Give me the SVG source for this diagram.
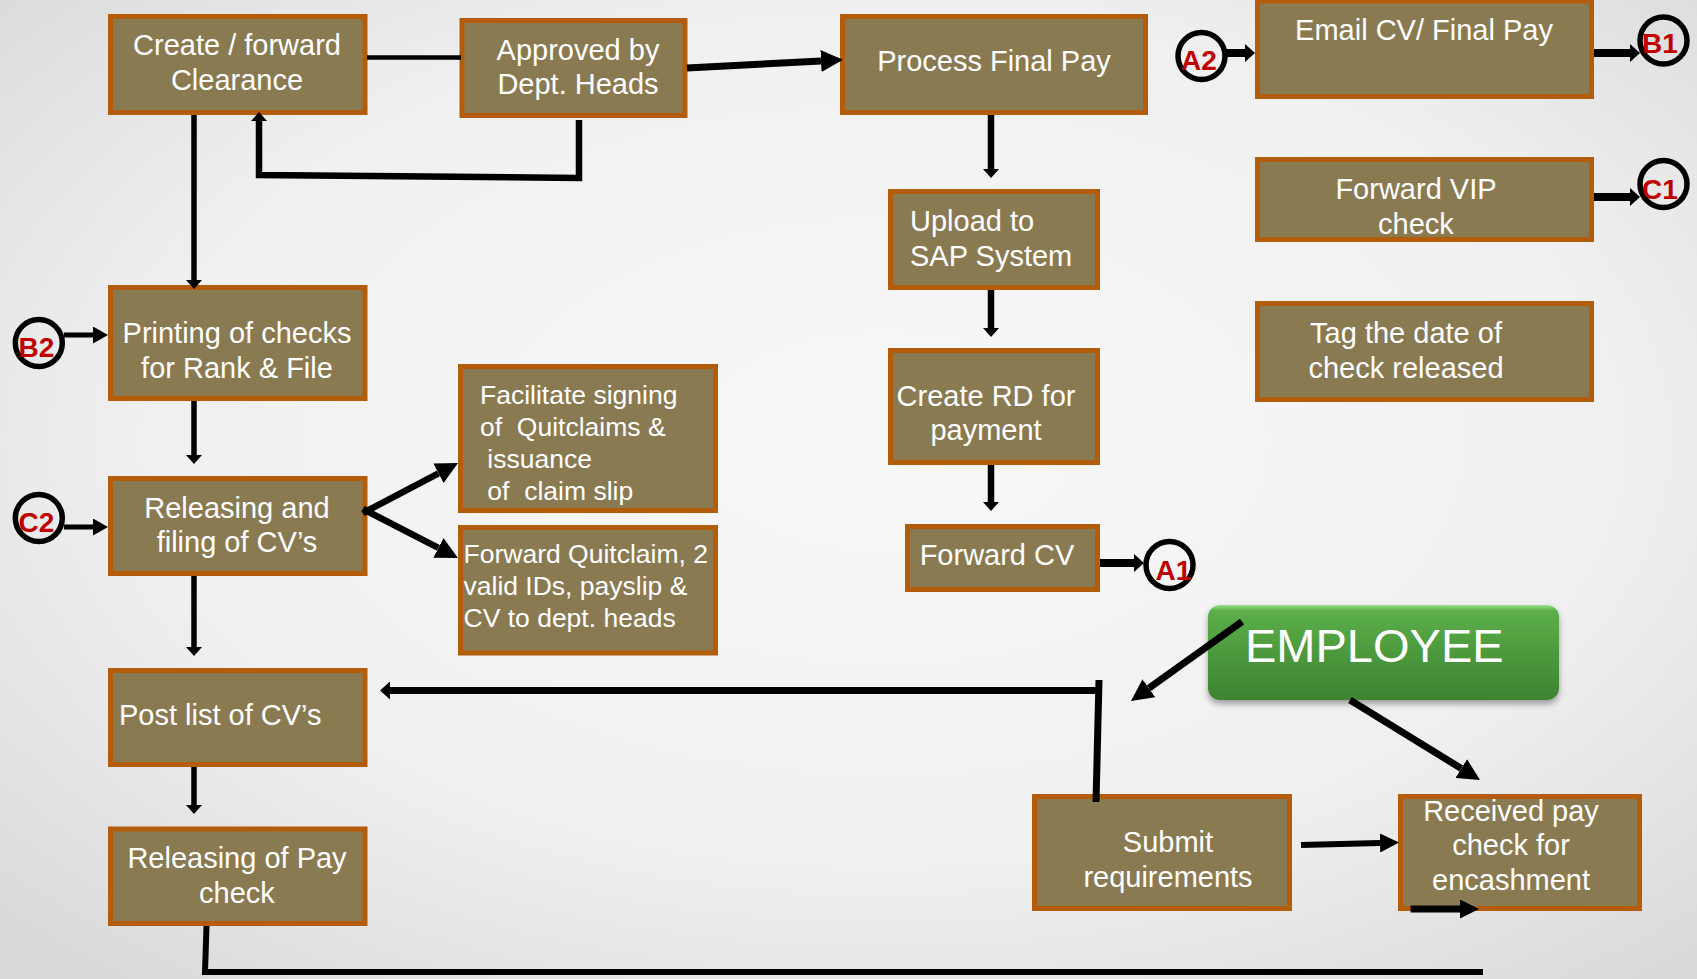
<svg xmlns="http://www.w3.org/2000/svg" width="1697" height="979" viewBox="0 0 1697 979">
<style>
.box{fill:#8A7A52;stroke:#B35C0A;stroke-width:5}
.t{font-family:"Liberation Sans",Arial,sans-serif;font-size:29px;fill:#ffffff}
.tc{text-anchor:middle}
.ts{font-size:26.5px;white-space:pre}
.ring{fill:none;stroke:#000;stroke-width:5.5}
.lbl{font-family:"Liberation Sans",Arial,sans-serif;font-size:28px;font-weight:bold;fill:#C00000;text-anchor:middle}
.ln{fill:none;stroke:#000;stroke-linecap:butt;stroke-linejoin:miter}
</style>
<defs>
<radialGradient id="bg" cx="52%" cy="45%" r="72%">
<stop offset="0" stop-color="#f8f8f8"/>
<stop offset="0.6" stop-color="#f0f0f0"/>
<stop offset="1" stop-color="#d9d9d9"/>
</radialGradient>
<linearGradient id="green" x1="0" y1="0" x2="0" y2="1">
<stop offset="0" stop-color="#9be38a"/>
<stop offset="0.06" stop-color="#5cae4a"/>
<stop offset="0.5" stop-color="#4c9a3d"/>
<stop offset="1" stop-color="#3e8332"/>
</linearGradient>
<filter id="sh" x="-10%" y="-10%" width="120%" height="140%">
<feDropShadow dx="0" dy="4" stdDeviation="3" flood-color="#000" flood-opacity="0.35"/>
</filter>
<marker id="mS" markerUnits="userSpaceOnUse" markerWidth="9" markerHeight="16" refX="0" refY="8" orient="auto"><path d="M0,0 L9,8 L0,16 z" fill="#000"/></marker>
<marker id="mM" markerUnits="userSpaceOnUse" markerWidth="15" markerHeight="17" refX="0" refY="8.5" orient="auto"><path d="M0,0 L15,8.5 L0,17 z" fill="#000"/></marker>
<marker id="mC" markerUnits="userSpaceOnUse" markerWidth="10" markerHeight="18" refX="0" refY="9" orient="auto"><path d="M0,0 L10,9 L0,18 z" fill="#000"/></marker>
<marker id="mB" markerUnits="userSpaceOnUse" markerWidth="22" markerHeight="22" refX="0" refY="11" orient="auto"><path d="M0,0 L22,11 L0,22 z" fill="#000"/></marker>
<marker id="mR" markerUnits="userSpaceOnUse" markerWidth="19" markerHeight="19" refX="0" refY="9.5" orient="auto"><path d="M0,0 L19,9.5 L0,19 z" fill="#000"/></marker>
</defs>
<rect x="0" y="0" width="1697" height="979" fill="url(#bg)"/>

<g id="n-create"><rect class="box" x="110.5" y="16.5" width="254.5" height="96"/>
<text class="t tc" x="237" y="55">Create / forward</text><text class="t tc" x="237" y="90">Clearance</text></g>
<g id="n-approved"><rect class="box" x="462" y="20.5" width="223" height="95"/>
<text class="t tc" x="578" y="60">Approved by</text><text class="t tc" x="578" y="94">Dept. Heads</text></g>
<g id="n-process"><rect class="box" x="842.5" y="16.5" width="303" height="96"/>
<text class="t tc" x="994" y="71">Process Final Pay</text></g>
<g id="n-email"><rect class="box" x="1257.5" y="1" width="334" height="95.5"/>
<text class="t tc" x="1424" y="40">Email CV/ Final Pay</text></g>
<g id="n-vip"><rect class="box" x="1257.5" y="159.5" width="334" height="80"/>
<text class="t tc" x="1416" y="199">Forward VIP</text><text class="t tc" x="1416" y="234">check</text></g>
<g id="n-tag"><rect class="box" x="1257.5" y="303.5" width="334" height="96"/>
<text class="t tc" x="1406" y="343">Tag the date of</text><text class="t tc" x="1406" y="378">check released</text></g>
<g id="n-upload"><rect class="box" x="890.5" y="191.5" width="207" height="96"/>
<text class="t" x="910" y="231">Upload to</text><text class="t" x="910" y="266">SAP System</text></g>
<g id="n-createrd"><rect class="box" x="890.5" y="350.5" width="207" height="112"/>
<text class="t tc" x="986" y="406">Create RD for</text><text class="t tc" x="986" y="440">payment</text></g>
<g id="n-forwardcv"><rect class="box" x="907.5" y="526.5" width="190" height="63"/>
<text class="t tc" x="997" y="565">Forward CV</text></g>
<g id="n-printing"><rect class="box" x="110.5" y="287.5" width="254.5" height="111"/>
<text class="t tc" x="237" y="343">Printing of checks</text><text class="t tc" x="237" y="378">for Rank &amp; File</text></g>
<g id="n-releasing"><rect class="box" x="110.5" y="478.5" width="254.5" height="95"/>
<text class="t tc" x="237" y="518">Releasing and</text><text class="t tc" x="237" y="552">filing of CV’s</text></g>
<g id="n-facilitate"><rect class="box" x="460.5" y="366.5" width="255" height="144"/>
<text class="t ts" x="480" y="404">Facilitate signing</text><text class="t ts" x="480" y="436">of  Quitclaims &amp;</text><text class="t ts" x="480" y="468"> issuance</text><text class="t ts" x="480" y="500"> of  claim slip</text></g>
<g id="n-forwardqc"><rect class="box" x="460.5" y="527.5" width="255" height="125.5"/>
<text class="t ts" x="463.5" y="562.5">Forward Quitclaim, 2</text><text class="t ts" x="463.5" y="595">valid IDs, payslip &amp;</text><text class="t ts" x="463.5" y="626.5">CV to dept. heads</text></g>
<g id="n-postlist"><rect class="box" x="110.5" y="670.5" width="254.5" height="94"/>
<text class="t" x="119" y="724.5">Post list of CV’s</text></g>
<g id="n-releasingpay"><rect class="box" x="110.5" y="829" width="254.5" height="94.5"/>
<text class="t tc" x="237" y="868">Releasing of Pay</text><text class="t tc" x="237" y="903">check</text></g>
<g id="n-submit"><rect class="box" x="1034.5" y="796.5" width="255" height="112"/>
<text class="t tc" x="1168" y="852">Submit</text><text class="t tc" x="1168" y="887">requirements</text></g>
<g id="n-received"><rect class="box" x="1400.5" y="796.5" width="239" height="112"/>
<text class="t tc" x="1511" y="821">Received pay</text><text class="t tc" x="1511" y="855">check for</text><text class="t tc" x="1511" y="890">encashment</text></g>
<g id="n-employee"><rect x="1208" y="605" width="351" height="95" rx="12" ry="12" fill="url(#green)" filter="url(#sh)"/>
<text class="t" x="1245" y="662" style="font-size:47px">EMPLOYEE</text></g>

<g id="connectors">
<line class="ln" x1="367" y1="57.5" x2="461" y2="57.5" stroke-width="4.5"/>
<line class="ln" x1="687" y1="68" x2="821" y2="61" stroke-width="7" marker-end="url(#mB)"/>
<polyline class="ln" points="579,120 579,178 259,175 259,121" stroke-width="6.5" marker-end="url(#mS)"/>
<line class="ln" x1="194" y1="115" x2="194" y2="280" stroke-width="5.5" marker-end="url(#mS)"/>
<line class="ln" x1="194" y1="401" x2="194" y2="455" stroke-width="5.5" marker-end="url(#mS)"/>
<line class="ln" x1="194" y1="576" x2="194" y2="647" stroke-width="5.5" marker-end="url(#mS)"/>
<line class="ln" x1="194" y1="767" x2="194" y2="805" stroke-width="5.5" marker-end="url(#mS)"/>
<line class="ln" x1="991" y1="115" x2="991" y2="169" stroke-width="6.5" marker-end="url(#mS)"/>
<line class="ln" x1="991" y1="290" x2="991" y2="328" stroke-width="6.5" marker-end="url(#mS)"/>
<line class="ln" x1="991" y1="465" x2="991" y2="502" stroke-width="6.5" marker-end="url(#mS)"/>
<line class="ln" x1="64" y1="335" x2="93" y2="335" stroke-width="5" marker-end="url(#mM)"/>
<line class="ln" x1="64" y1="527" x2="93" y2="527" stroke-width="5" marker-end="url(#mM)"/>
<line class="ln" x1="1226" y1="53" x2="1245" y2="53" stroke-width="8" marker-end="url(#mC)"/>
<line class="ln" x1="1594" y1="53" x2="1630" y2="53" stroke-width="8" marker-end="url(#mC)"/>
<line class="ln" x1="1594" y1="197" x2="1630" y2="197" stroke-width="8" marker-end="url(#mC)"/>
<line class="ln" x1="1100" y1="563" x2="1134" y2="563" stroke-width="8" marker-end="url(#mC)"/>
<line class="ln" x1="363" y1="513" x2="438.5" y2="473.3" stroke-width="6.5" marker-end="url(#mB)"/>
<line class="ln" x1="363" y1="509" x2="438.4" y2="547.9" stroke-width="6.5" marker-end="url(#mB)"/>
<line class="ln" x1="1242" y1="621.6" x2="1148.9" y2="688.2" stroke-width="7" marker-end="url(#mB)"/>
<line class="ln" x1="1350" y1="700" x2="1461.3" y2="768.5" stroke-width="7" marker-end="url(#mB)"/>
<line class="ln" x1="1301" y1="845" x2="1380" y2="843" stroke-width="6" marker-end="url(#mR)"/>
<line class="ln" x1="1410.6" y1="909" x2="1460" y2="909" stroke-width="7" marker-end="url(#mR)"/>
<line class="ln" x1="1102" y1="690.5" x2="390" y2="690.5" stroke-width="7" marker-end="url(#mC)"/>
<line class="ln" x1="1099" y1="680" x2="1096" y2="802" stroke-width="7"/>
<polyline class="ln" points="206.5,926 205,972 1483,972" stroke-width="6"/>
</g>

<g id="c-a2"><circle class="ring" cx="1201.5" cy="56" r="23.5"/><text class="lbl" x="1199" y="70">A2</text></g>
<g id="c-b1"><circle class="ring" cx="1663.5" cy="40.5" r="23.5"/><text class="lbl" x="1660" y="53">B1</text></g>
<g id="c-c1"><circle class="ring" cx="1663.5" cy="184" r="23.5"/><text class="lbl" x="1660" y="199">C1</text></g>
<g id="c-b2"><circle class="ring" cx="38.8" cy="343" r="23.5"/><text class="lbl" x="36.5" y="357">B2</text></g>
<g id="c-c2"><circle class="ring" cx="38.8" cy="518" r="23.5"/><text class="lbl" x="36.5" y="532">C2</text></g>
<g id="c-a1"><circle class="ring" cx="1169.5" cy="565" r="23.5"/><text class="lbl" x="1173.5" y="580">A1</text></g>
</svg>
